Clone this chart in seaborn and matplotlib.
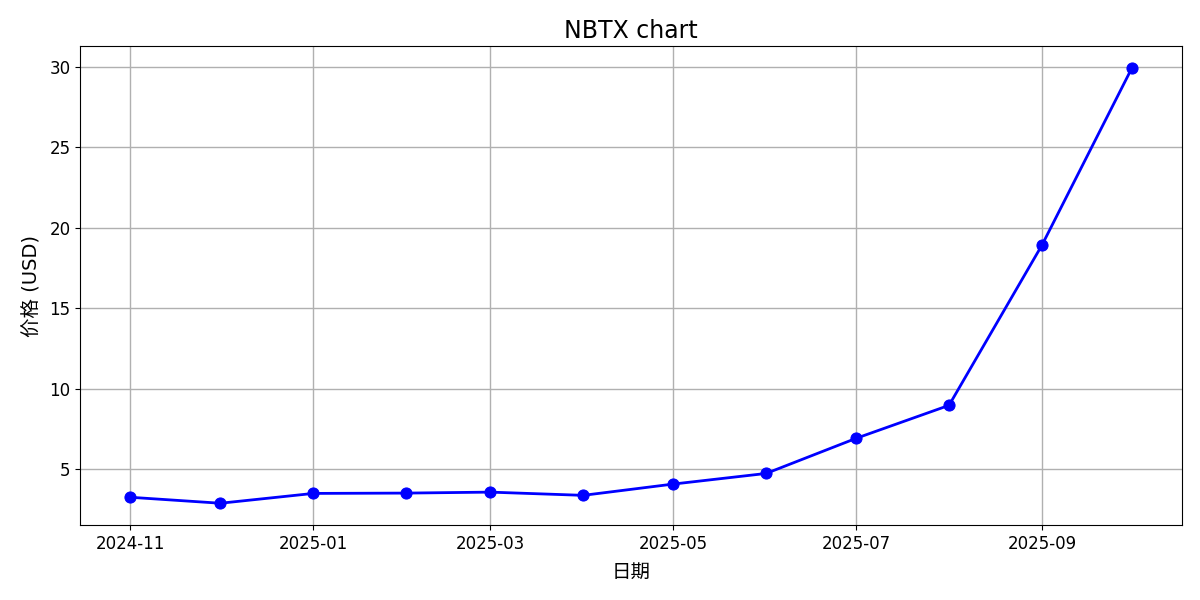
import matplotlib
matplotlib.use("Agg")
import matplotlib.pyplot as plt
import matplotlib.dates as mdates
import seaborn as sns
import pandas as pd

dates = ["2024-11-01", "2024-12-01", "2025-01-01", "2025-02-01", "2025-03-01", "2025-04-01",
         "2025-05-01", "2025-06-01", "2025-07-01", "2025-08-01", "2025-09-01", "2025-10-01"]
prices = [3.26, 2.89, 3.50, 3.52, 3.58, 3.38, 4.08, 4.74, 6.92, 8.97, 18.92, 29.92]

df = pd.DataFrame({"date": pd.to_datetime(dates), "price": prices})

plt.rcParams['font.family'] = ['DejaVu Sans', 'Noto Sans CJK SC']

fig, ax = plt.subplots(figsize=(12, 6), dpi=100)
sns.lineplot(data=df, x="date", y="price", ax=ax, color="blue", marker="o",
             markersize=8, markeredgecolor="blue", linewidth=2)

ax.set_title("NBTX chart", fontsize=17)
ax.set_xlabel("日期", fontsize=14, labelpad=7)
ax.set_ylabel("价格 (USD)", fontsize=14, labelpad=6)
ax.tick_params(labelsize=12)
ax.xaxis.set_major_locator(mdates.MonthLocator(bymonth=[1, 3, 5, 7, 9, 11]))
ax.xaxis.set_major_formatter(mdates.DateFormatter("%Y-%m"))
ax.grid(True, color="#b0b0b0", linewidth=1)

fig.subplots_adjust(left=0.067, right=0.985, top=0.923, bottom=0.125)
fig.savefig("out.png")
